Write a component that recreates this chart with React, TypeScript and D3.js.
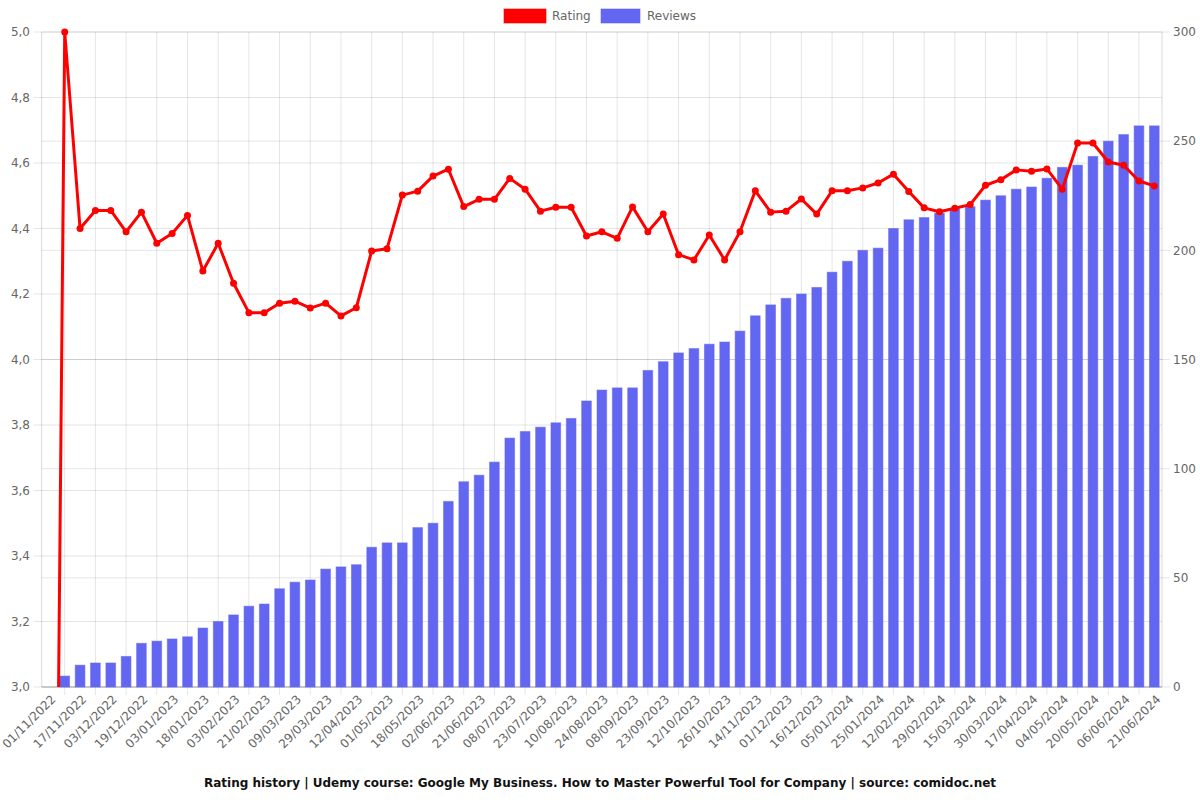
import React from "react";
import * as d3 from "d3";

const dates: string[] = [
  "01/11/2022", "09/11/2022", "17/11/2022", "25/11/2022", "03/12/2022", "11/12/2022",
  "19/12/2022", "27/12/2022", "03/01/2023", "10/01/2023", "18/01/2023", "26/01/2023",
  "03/02/2023", "12/02/2023", "21/02/2023", "01/03/2023", "09/03/2023", "19/03/2023",
  "29/03/2023", "05/04/2023", "12/04/2023", "21/04/2023", "01/05/2023", "09/05/2023",
  "18/05/2023", "25/05/2023", "02/06/2023", "11/06/2023", "21/06/2023", "29/06/2023",
  "08/07/2023", "15/07/2023", "23/07/2023", "01/08/2023", "10/08/2023", "17/08/2023",
  "24/08/2023", "31/08/2023", "08/09/2023", "15/09/2023", "23/09/2023", "02/10/2023",
  "12/10/2023", "19/10/2023", "26/10/2023", "04/11/2023", "14/11/2023", "22/11/2023",
  "01/12/2023", "08/12/2023", "16/12/2023", "26/12/2023", "05/01/2024", "15/01/2024",
  "25/01/2024", "03/02/2024", "12/02/2024", "20/02/2024", "29/02/2024", "07/03/2024",
  "15/03/2024", "22/03/2024", "30/03/2024", "08/04/2024", "17/04/2024", "26/04/2024",
  "04/05/2024", "12/05/2024", "20/05/2024", "28/05/2024", "06/06/2024", "13/06/2024",
  "21/06/2024",
];

const ratings: number[] = [
  0, 5.0, 4.40, 4.455, 4.455, 4.39, 4.45, 4.355, 4.385, 4.44, 4.27, 4.355,
  4.233, 4.143, 4.143, 4.172, 4.178, 4.157, 4.172, 4.133, 4.158, 4.331, 4.338, 4.502,
  4.514, 4.56, 4.581, 4.467, 4.489, 4.489, 4.553, 4.52, 4.453, 4.465, 4.465, 4.377,
  4.39, 4.37, 4.466, 4.39, 4.444, 4.32, 4.304, 4.38, 4.304, 4.39, 4.515, 4.45,
  4.453, 4.49, 4.444, 4.515, 4.515, 4.524, 4.539, 4.566, 4.513, 4.463, 4.451, 4.462,
  4.473, 4.532, 4.549, 4.579, 4.575, 4.582, 4.52, 4.661, 4.661, 4.603, 4.593, 4.545,
  4.53,
];

const reviews: number[] = [
  0, 5, 10, 11, 11, 14, 20, 21, 22, 23, 27, 30,
  33, 37, 38, 45, 48, 49, 54, 55, 56, 64, 66, 66,
  73, 75, 85, 94, 97, 103, 114, 117, 119, 121, 123, 131,
  136, 137, 137, 145, 149, 153, 155, 157, 158, 163, 170, 175,
  178, 180, 183, 190, 195, 200, 201, 210, 214, 215, 217, 219,
  220, 223, 225, 228, 229, 233, 238, 239, 243, 250, 253, 257,
  257,
];

const ratingTicks: number[] = [3.0, 3.2, 3.4, 3.6, 3.8, 4.0, 4.2, 4.4, 4.6, 4.8, 5.0];
const reviewTicks: number[] = [0, 50, 100, 150, 200, 250, 300];

const titleText =
  "Rating history | Udemy course: Google My Business. How to Master Powerful Tool for Company | source: comidoc.net";

const W = 1200;
const H = 800;
const L = 41.7;
const R = 1162;
const T = 32;
const B = 687;

const RED = "#ff0000";
const BLUE = "#6366f1";
const GRID = "rgba(0,0,0,0.1)";
const FONT = "'DejaVu Sans', Verdana, sans-serif";

export default function App() {
  const idx = dates.map((_, i) => i);
  const x = d3.scaleBand<number>().domain(idx).range([L, R]).padding(0);
  const cx = (i: number) => (x(i) as number) + x.bandwidth() / 2;
  const yL = d3.scaleLinear().domain([3, 5]).range([B, T]);
  const yR = d3.scaleLinear().domain([0, 300]).range([B, T]);
  const bw = x.bandwidth() * 0.63;

  const line = d3
    .line<number>()
    .x((_, i) => cx(i))
    .y((d) => yL(d));

  const fmt = (v: number) => v.toFixed(1).replace(".", ",");

  return (
    <svg
      width={W}
      height={H}
      style={{ position: "absolute", left: 0, top: 0, display: "block", background: "#fff" }}
      fontFamily={FONT}
    >
      <defs>
        <clipPath id="plotClip">
          <rect x={L} y={T - 6} width={R - L} height={B - T + 6} />
        </clipPath>
      </defs>

      {ratingTicks.map((t) => (
        <line key={"gl" + t} x1={L - 8} x2={R} y1={yL(t)} y2={yL(t)} stroke={GRID} />
      ))}
      {reviewTicks.map((t) => (
        <line key={"gr" + t} x1={L} x2={R + 8} y1={yR(t)} y2={yR(t)} stroke={GRID} />
      ))}
      {idx
        .filter((i) => i % 2 === 1)
        .map((i) => (
          <line key={"gv" + i} x1={cx(i)} x2={cx(i)} y1={T} y2={B + 8} stroke={GRID} />
        ))}
      <line x1={L} x2={L} y1={T} y2={B} stroke="rgba(0,0,0,0.15)" />
      <line x1={R} x2={R} y1={T} y2={B} stroke="rgba(0,0,0,0.15)" />
      <line x1={L} x2={R} y1={B} y2={B} stroke="rgba(0,0,0,0.25)" />

      {reviews.map((v, i) => (
        <rect
          key={"b" + i}
          x={cx(i) - bw / 2}
          y={yR(v)}
          width={bw}
          height={B - yR(v)}
          fill={BLUE}
          stroke="rgba(99,102,241,0.55)"
          strokeWidth={1}
        />
      ))}

      <g clipPath="url(#plotClip)">
        <path d={line(ratings) || ""} fill="none" stroke={RED} strokeWidth={3} strokeLinejoin="round" />
        {ratings.map((v, i) => (
          <circle key={"p" + i} cx={cx(i)} cy={yL(v)} r={3.5} fill={RED} />
        ))}
      </g>

      {ratingTicks.map((t) => (
        <text key={"tl" + t} x={30} y={yL(t)} dy="0.35em" textAnchor="end" fontSize={12} fill="#666">
          {fmt(t)}
        </text>
      ))}
      {reviewTicks.map((t) => (
        <text key={"tr" + t} x={1173} y={yR(t)} dy="0.35em" textAnchor="start" fontSize={12} fill="#666">
          {t}
        </text>
      ))}
      {idx
        .filter((i) => i % 2 === 0)
        .map((i) => (
          <text
            key={"tx" + i}
            transform={`translate(${cx(i) + 4},${B + 10}) rotate(-45)`}
            textAnchor="end"
            dy="0.35em"
            fontSize={12}
            fill="#666"
          >
            {dates[i]}
          </text>
        ))}

      <g fontSize={12} fill="#666">
        <rect x={504} y={9} width={42} height={14} fill={RED} stroke="rgba(255,0,0,0.6)" />
        <text x={552} y={16} dy="0.35em">Rating</text>
        <rect x={601} y={9} width={39} height={14} fill={BLUE} stroke="rgba(99,102,241,0.6)" />
        <text x={647} y={16} dy="0.35em">Reviews</text>
      </g>

      <text x={600} y={783} dy="0.35em" textAnchor="middle" fontSize={12} fontWeight="bold" fill="#111">
        {titleText}
      </text>
    </svg>
  );
}
